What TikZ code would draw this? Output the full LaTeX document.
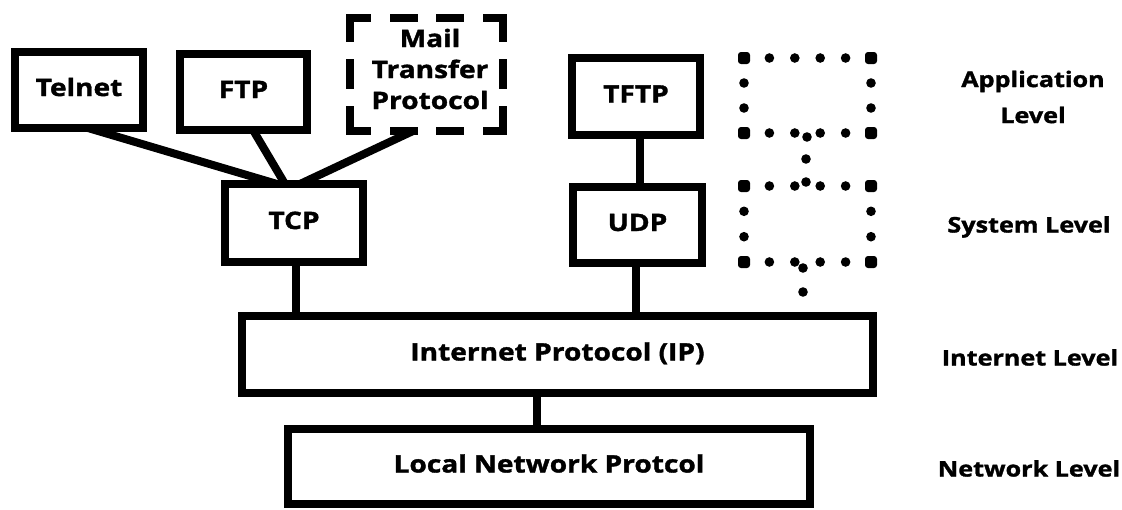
\documentclass[tikz,border=0pt]{standalone}
\usepackage{fontspec}
\newfontfamily\lblfont{Open Sans}[FakeStretch=1.17, BoldFeatures={FakeBold=1.5}]
\begin{document}
\begin{tikzpicture}[x=1pt,y=-1pt,
  box/.style={draw, line width=7.5pt, rectangle, inner sep=0pt, outer sep=0pt,
    font=\lblfont\bfseries\fontsize{24}{31}\selectfont, text height=17pt, text depth=5pt},
  hidbox/.style={rectangle, inner sep=0pt, outer sep=0pt},
  boxtxt/.style={inner sep=0pt, align=center, font=\lblfont\bfseries\fontsize{24}{31}\selectfont},
  conn/.style={line width=8pt},
  dashH/.style={line width=7.5pt, dash pattern=on 25pt off 19pt on 28pt off 18pt on 28pt off 19pt on 30pt off 10pt},
  dashV/.style={line width=7.5pt, dash pattern=on 28pt off 17pt on 30pt off 17pt on 40pt off 10pt},
  lvl/.style={inner sep=0pt, align=center, font=\lblfont\bfseries\fontsize{21.5}{36}\selectfont},
  lvlone/.style={inner sep=0pt, font=\lblfont\bfseries\fontsize{21.5}{36}\selectfont, text height=15pt, text depth=4pt},
  dotc/.style={fill=black}
]
\useasboundingbox (0,0) rectangle (1122,509);

% application level
\node[box, minimum width=128pt, minimum height=76pt] (telnet) at (79,90) {Telnet};
\node[box, minimum width=127pt, minimum height=76pt] (ftp) at (243.5,92) {FTP};
\node[hidbox, minimum width=153pt, minimum height=113pt] (mail) at (426.5,74.5) {};
\node[boxtxt] (mailtxt) at (430,69) {Mail\\Transfer\\Protocol};
\node[box, minimum width=128pt, minimum height=77pt] (tftp) at (636,96.5) {TFTP};

% dashed border of mail box
\draw[dashH] ([xshift=-3.75pt]mail.north west) -- ([xshift=3.75pt]mail.north east);
\draw[dashH] ([xshift=-3.75pt]mail.south west) -- ([xshift=3.75pt]mail.south east);
\draw[dashV] ([yshift=3.75pt]mail.north west) -- ([yshift=-3.75pt]mail.south west);
\draw[dashV] ([yshift=3.75pt]mail.north east) -- ([yshift=-3.75pt]mail.south east);

% system level
\node[box, minimum width=138pt, minimum height=78pt] (tcp) at (294,223) {TCP};
\node[box, minimum width=129pt, minimum height=76pt] (udp) at (637.5,225) {UDP};

% internet and network level
\node[box, minimum width=631pt, minimum height=77pt] (ip) at (557.5,354.5) {Internet Protocol (IP)};
\node[box, minimum width=522pt, minimum height=75pt] (local) at (549,466.5) {Local Network Protcol};

% connectors
\draw[conn] ([xshift=9pt]telnet.south) -- ([xshift=-17pt]tcp.north);
\draw[conn] ([xshift=9.5pt]ftp.south) -- ([xshift=-9pt]tcp.north);
\draw[conn] ([xshift=-13.5pt]mail.south) -- ([xshift=6pt]tcp.north);
\draw[conn] ([xshift=4pt]tftp.south) -- ([xshift=4pt]tftp.south |- udp.north);
\draw[conn] ([xshift=2pt]tcp.south) -- ([xshift=2pt]tcp.south |- ip.north);
\draw[conn] ([xshift=-1.5pt]udp.south) -- ([xshift=-1.5pt]udp.south |- ip.north);
\draw[conn] ([xshift=-12pt]local.north |- ip.south) -- ([xshift=-12pt]local.north);

% dotted boxes
\foreach \yy in {58,133,186,262} {
  \foreach \xx in {769.4,794.8,820.2,845.6} { \fill[dotc] (\xx,\yy) circle (4.8pt); }
  \fill[dotc, rounded corners=3pt] (738,\yy-6) rectangle (750,\yy+6);
  \fill[dotc, rounded corners=3pt] (865,\yy-6) rectangle (877,\yy+6);
}
\foreach \yy in {83,108,211.3,236.7} {
  \fill[dotc] (744,\yy) circle (4.8pt);
  \fill[dotc] (871,\yy) circle (4.8pt);
}
\foreach \p in {(807,137),(806,159),(806,182),(803,268),(803,292)} {
  \fill[dotc] \p circle (4.8pt);
}

% level labels
\node[lvl] (applvl) at (1033,97) {Application\\Level};
\node[lvlone] (syslvl) at (1029,227) {System Level};
\node[lvlone] (inetlvl) at (1030,360) {Internet Level};
\node[lvlone] (netlvl) at (1029,471) {Network Level};
\end{tikzpicture}
\end{document}
